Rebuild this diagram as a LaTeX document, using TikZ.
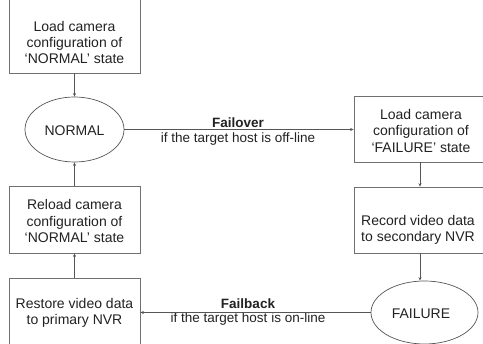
\documentclass[tikz,border=0pt]{standalone}
\usepackage{fontspec}
\setmainfont{Liberation Sans}
\usetikzlibrary{arrows.meta,shapes.geometric}
\definecolor{linec}{HTML}{555555}
\definecolor{boxc}{HTML}{707070}
\definecolor{txtc}{HTML}{222222}
\begin{document}
\begin{tikzpicture}[x=1pt,y=-1pt,
  box/.style={draw=boxc,line width=0.7pt,rectangle,inner sep=0pt},
  st/.style={draw=linec,line width=0.7pt,ellipse,inner sep=0pt,minimum width=#1},
  txt/.style={text=txtc,font=\fontsize{14}{16.2}\selectfont,align=center,inner sep=0pt},
  lbl/.style={text=txtc,font=\fontsize{13.5}{16}\selectfont,align=center,inner sep=0pt},
  arr/.style={draw=linec,line width=0.6pt,-{Stealth[length=3.5pt,width=3pt]}}]
\useasboundingbox (0,0) rectangle (483,344);
\fill[white] (0,0) rectangle (483,344);
% boxes
\node[box,minimum width=131pt,minimum height=85pt] (A) at (74.5,30.5) {};
\node[box,minimum width=131pt,minimum height=67pt] (B) at (74.5,219.5) {};
\node[box,minimum width=131pt,minimum height=82pt] (C) at (74.5,319) {};
\node[box,minimum width=146pt,minimum height=66pt] (D) at (427,129) {};
\node[box,minimum width=146pt,minimum height=66pt] (E) at (427,220) {};
% states
\node[st=99pt,minimum height=65pt] (N) at (74.5,129.5) {};
\node[st=107pt,minimum height=63pt] (F) at (424.5,312.5) {};
% texts
\node[txt] (tA) at (74.5,42.5) {Load camera\\configuration of\\‘NORMAL’ state};
\node[txt] (tB) at (74.5,221) {Reload camera\\configuration of\\‘NORMAL’ state};
\node[txt] (tC) at (74.5,313) {Restore video data\\to primary NVR};
\node[txt] (tD) at (421,131) {Load camera\\configuration of\\‘FAILURE’ state};
\node[txt] (tE) at (418,230) {Record video data\\to secondary NVR};
\node[txt] (tN) at (74.5,131) {NORMAL};
\node[txt] (tF) at (421,313.5) {FAILURE};
\node[lbl,font=\fontsize{13.5}{16}\selectfont\bfseries] (l1) at (238,123) {Failover};
\node[lbl] (l2) at (238,139) {if the target host is off-line};
\node[lbl,font=\fontsize{13.5}{16}\selectfont\bfseries] (l3) at (248,304) {Failback};
\node[lbl] (l4) at (248,319.5) {if the target host is on-line};
% connectors
\coordinate (colR) at (420,0);
\draw[arr] (A.south) -- (N.north);
\draw[arr] (B.north) -- (N.south);
\draw[arr] (C.north) -- (B.south);
\draw[arr] (N.east) -- (N.east -| D.west);
\draw[arr] (D.south -| colR) -- (E.north -| colR);
\draw[arr] (E.south -| colR) -- (colR |- F.north);
\draw[arr] (F.west) -- (F.west -| C.east);
\end{tikzpicture}
\end{document}
